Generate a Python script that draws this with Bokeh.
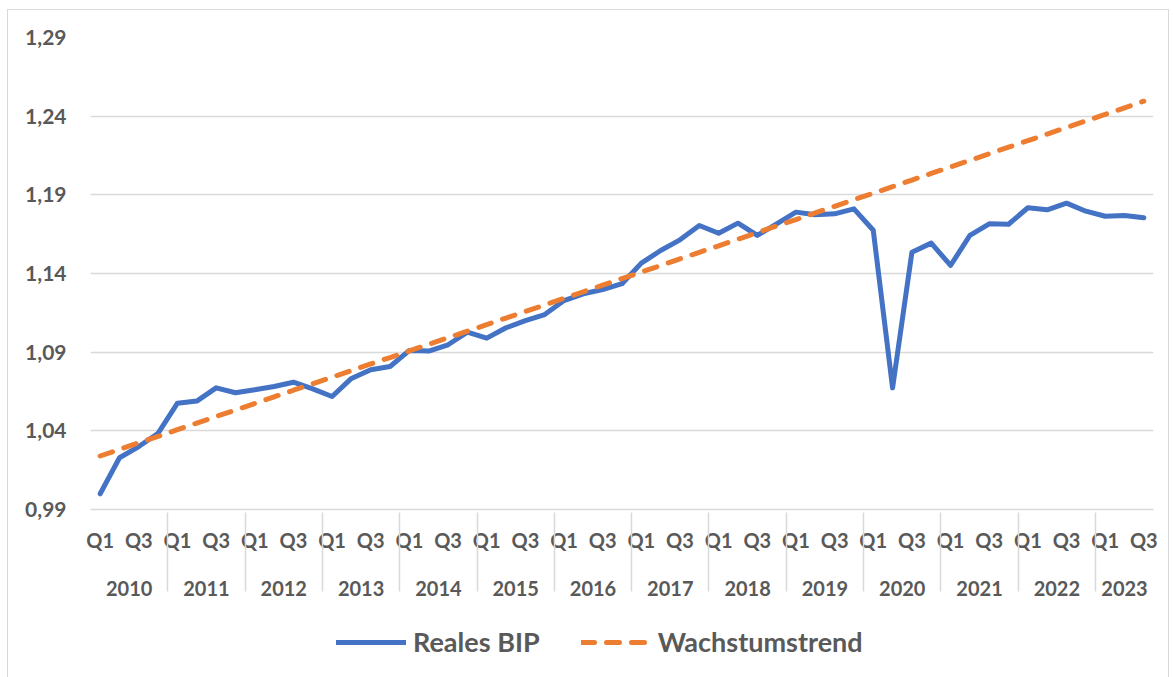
from bokeh.plotting import figure
from bokeh.layouts import column
from bokeh.models import FactorRange, Range1d, FixedTicker, Legend, LegendItem
from bokeh.embed import file_html
from bokeh.resources import INLINE

years = ["2010", "2011", "2012", "2013", "2014", "2015", "2016",
         "2017", "2018", "2019", "2020", "2021", "2022", "2023"]
# Q2 and Q4 are not labelled on the axis (blank labels)
quarter_labels = ["Q1", " ", "Q3", "  "]
n_quarters = 55  # 2010 Q1 .. 2023 Q3

reales_bip = [
    1.0000, 1.0229, 1.0300, 1.0385, 1.0576, 1.0589, 1.0673, 1.0642,
    1.0661, 1.0682, 1.0709, 1.0667, 1.0618, 1.0733, 1.0788, 1.0809,
    1.0911, 1.0907, 1.0947, 1.1027, 1.0989, 1.1055, 1.1101, 1.1139,
    1.1228, 1.1271, 1.1298, 1.1335, 1.1466, 1.1546, 1.1614, 1.1705,
    1.1656, 1.1720, 1.1642, 1.1716, 1.1790, 1.1773, 1.1779, 1.1811,
    1.1675, 1.0673, 1.1535, 1.1593, 1.1451, 1.1642, 1.1716, 1.1713,
    1.1818, 1.1805, 1.1847, 1.1796, 1.1764, 1.1769, 1.1754,
]
wachstumstrend = [
    1.0240, 1.0282, 1.0324, 1.0365, 1.0407, 1.0449, 1.0491, 1.0532,
    1.0574, 1.0616, 1.0658, 1.0699, 1.0741, 1.0783, 1.0825, 1.0866,
    1.0908, 1.0950, 1.0992, 1.1033, 1.1075, 1.1117, 1.1159, 1.1200,
    1.1242, 1.1284, 1.1326, 1.1368, 1.1409, 1.1451, 1.1493, 1.1535,
    1.1576, 1.1618, 1.1660, 1.1702, 1.1743, 1.1785, 1.1827, 1.1869,
    1.1910, 1.1952, 1.1994, 1.2036, 1.2077, 1.2119, 1.2161, 1.2203,
    1.2244, 1.2286, 1.2328, 1.2370, 1.2411, 1.2453, 1.2495,
]
y_ticks = [0.99, 1.04, 1.09, 1.14, 1.19, 1.24, 1.29]
y_tick_labels = ["0,99", "1,04", "1,09", "1,14", "1,19", "1,24", "1,29"]
series_names = ["Reales BIP", "Wachstumstrend"]

# leading newline + reduced line height pushes the year row a bit lower
factors = [("\n" + y, q) for y in years for q in quarter_labels][:n_quarters]

FONT = "Lato"
TXT = "#595959"
GRID = "#d9d9d9"
BLUE = "#4472C4"
ORANGE = "#ED7D31"

p = figure(
    x_range=FactorRange(*factors, range_padding=0, group_padding=0,
                        subgroup_padding=0, factor_padding=0),
    y_range=Range1d(0.99, 1.29),
    frame_width=1063, frame_height=472,
    output_backend="svg", toolbar_location=None,
    min_border_left=82, min_border_right=15,
    min_border_top=27, min_border_bottom=0,
)
p.outline_line_color = None
p.xgrid.grid_line_color = None
p.ygrid.grid_line_color = GRID
p.ygrid.grid_line_width = 1.5

p.yaxis.ticker = FixedTicker(ticks=y_ticks)
p.yaxis.major_label_overrides = dict(zip(y_ticks, y_tick_labels))
p.yaxis.axis_line_color = None
p.yaxis.major_tick_line_color = None
p.yaxis.minor_tick_line_color = None
p.yaxis.major_label_standoff = 18
p.yaxis.major_label_text_font = FONT
p.yaxis.major_label_text_font_style = "bold"
p.yaxis.major_label_text_font_size = "21px"
p.yaxis.major_label_text_color = TXT

xa = p.xaxis[0]
xa.axis_line_color = GRID
xa.axis_line_width = 1.5
xa.major_tick_line_color = None
xa.minor_tick_line_color = None
xa.major_label_text_font = FONT
xa.major_label_text_font_style = "bold"
xa.major_label_text_font_size = "20px"
xa.major_label_text_color = TXT
xa.major_label_standoff = 12
xa.group_text_font = FONT
xa.group_text_font_style = "bold"
xa.group_text_font_size = "20px"
xa.group_text_color = TXT
xa.group_text_line_height = 0.4
xa.separator_line_color = GRID
xa.separator_line_width = 1.5

p.line(factors, reales_bip, line_color=BLUE, line_width=5,
       line_join="round", line_cap="round")
p.line(factors, wachstumstrend, line_color=ORANGE, line_width=5,
       line_dash="13 12", line_cap="round")

# legend strip below the chart; its lines lie outside its visible range
lg = figure(width=1160, height=76, x_range=Range1d(0, 1), y_range=Range1d(0, 0.5),
            output_backend="svg", toolbar_location=None, min_border=0)
lg.axis.visible = False
lg.grid.grid_line_color = None
lg.outline_line_color = None
idx = list(range(n_quarters))
l1 = lg.line(idx, reales_bip, line_color=BLUE, line_width=5, line_cap="round")
l2 = lg.line(idx, wachstumstrend, line_color=ORANGE, line_width=5,
             line_dash="13 12", line_cap="round")
legend = Legend(
    items=[LegendItem(label=series_names[0], renderers=[l1]),
           LegendItem(label=series_names[1], renderers=[l2])],
    orientation="horizontal", location=(246, 21),
    border_line_color=None, background_fill_alpha=0,
    glyph_width=70, glyph_height=30, spacing=41, padding=0,
    label_standoff=7,
    label_text_font=FONT, label_text_font_style="bold",
    label_text_font_size="27px", label_text_color=TXT,
    margin=0,
)
lg.add_layout(legend, "center")

layout = column(p, lg, spacing=0,
                styles={"border": "1px solid #d9d9d9", "margin-left": "7px",
                        "margin-top": "9px"})

open("out.html", "w").write(file_html(layout, INLINE))
